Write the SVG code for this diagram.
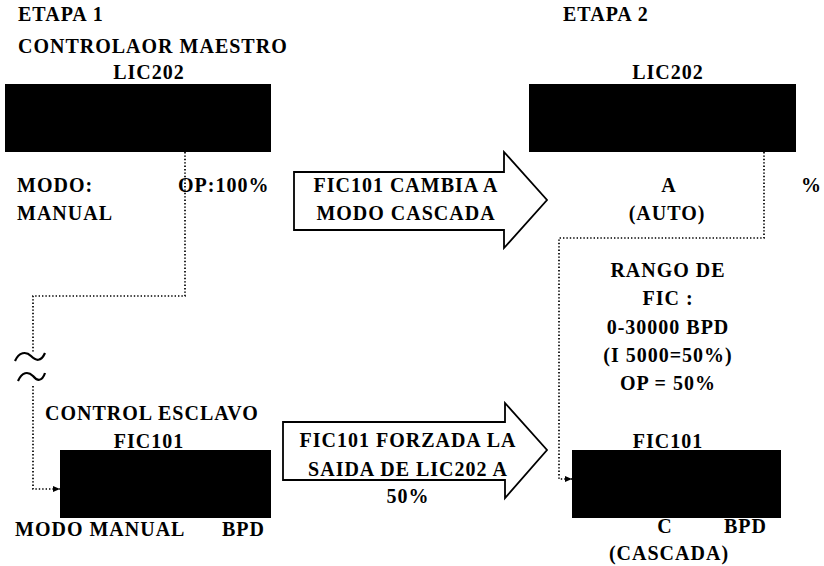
<svg xmlns="http://www.w3.org/2000/svg" width="824" height="566" viewBox="0 0 824 566">
<defs>
<style>
.t{font-family:"Liberation Serif","Times New Roman",serif;font-size:20px;font-weight:bold;letter-spacing:1px;fill:#000}
.m{text-anchor:middle}
.box{fill:#000}
.blk{fill:#fff;stroke:#000;stroke-width:1.8;stroke-linejoin:miter}
.dot{fill:none;stroke:#000;stroke-width:1.7;stroke-dasharray:1.4 2}
.wave{fill:none;stroke:#000;stroke-width:2.2}
</style>
<marker id="ah" markerUnits="userSpaceOnUse" markerWidth="8" markerHeight="7" refX="7" refY="3" orient="auto">
<path d="M0,0 L7,3 L0,6 Z" fill="#000"/>
</marker>
</defs>
<rect width="824" height="566" fill="#fff"/>

<g id="headings">
<text class="t" x="18" y="21">ETAPA 1</text>
<text class="t" x="18" y="53">CONTROLAOR MAESTRO</text>
<text class="t" x="563" y="21">ETAPA 2</text>
</g>

<g id="lic202-etapa1">
<text class="t m" x="149" y="79">LIC202</text>
<rect class="box" x="5" y="84" width="266" height="68"/>
<text class="t" x="17" y="192">MODO:</text>
<text class="t" x="178" y="192">OP:100%</text>
<text class="t" x="17" y="220">MANUAL</text>
</g>

<g id="lic202-etapa2">
<text class="t m" x="668" y="79">LIC202</text>
<rect class="box" x="529" y="84" width="267" height="68"/>
<text class="t m" x="669" y="192">A</text>
<text class="t" x="801" y="192" style="letter-spacing:0">%</text>
<text class="t m" x="667" y="220">(AUTO)</text>
</g>

<g id="arrow-cambia">
<path class="blk" d="M294,172 H504 V152 L547,200 L504,248 V230 H294 Z"/>
<text class="t m" x="406" y="192">FIC101 CAMBIA A</text>
<text class="t m" x="406" y="220">MODO CASCADA</text>
</g>

<g id="rango">
<text class="t m" x="668" y="277">RANGO DE</text>
<text class="t m" x="668" y="305">FIC :</text>
<text class="t m" x="668" y="334">0-30000 BPD</text>
<text class="t m" x="668" y="362">(I 5000=50%)</text>
<text class="t m" x="668" y="390">OP = 50%</text>
</g>

<g id="fic101-etapa1">
<text class="t" x="45" y="420">CONTROL ESCLAVO</text>
<text class="t m" x="149" y="448">FIC101</text>
<rect class="box" x="60" y="450" width="211" height="68"/>
<text class="t" x="15" y="536">MODO MANUAL</text>
<text class="t" x="222" y="536">BPD</text>
</g>

<g id="arrow-forzada">
<path class="blk" d="M283,422 H505 V403 L547,450 L505,498 V480 H283 Z"/>
<text class="t m" x="408" y="447">FIC101 FORZADA LA</text>
<text class="t m" x="408" y="476">SAIDA DE LIC202 A</text>
<text class="t m" x="408" y="503">50%</text>
</g>

<g id="fic101-etapa2">
<text class="t m" x="668" y="448">FIC101</text>
<rect class="box" x="572" y="450" width="209" height="68"/>
<text class="t m" x="665" y="533">C</text>
<text class="t" x="724" y="533">BPD</text>
<text class="t m" x="669" y="560">(CASCADA)</text>
</g>

<g id="connectors">
<path class="dot" d="M185,152 V296 H33 V352"/>
<path class="wave" d="M15,361 C19,352 26,351 31,356 C36,361 41,362 45,353"/>
<path class="wave" d="M18,381 C22,372 28,371 33,376 C37,381 42,382 45,373"/>
<path class="dot" d="M33,386 V489 H60" marker-end="url(#ah)"/>
<path class="dot" d="M764,152 V238 H559 V479 H572" marker-end="url(#ah)"/>
</g>
</svg>
